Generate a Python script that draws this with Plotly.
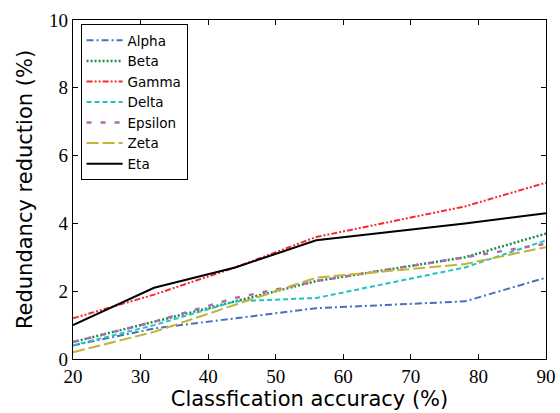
import plotly.graph_objects as go

# Classification accuracy (%) at which each method was evaluated
accuracy = [20, 32, 44, 56, 78, 90]

# Redundancy reduction (%) per method
alpha = [0.4, 0.9, 1.2, 1.5, 1.7, 2.4]
beta = [0.5, 1.1, 1.7, 2.3, 3.0, 3.7]
gamma = [1.2, 1.9, 2.7, 3.6, 4.5, 5.2]
delta = [0.4, 1.0, 1.7, 1.8, 2.7, 3.5]
epsilon = [0.5, 1.1, 1.8, 2.3, 3.0, 3.4]
zeta = [0.2, 0.8, 1.6, 2.4, 2.8, 3.3]
eta = [1.0, 2.1, 2.7, 3.5, 4.0, 4.3]

x_ticks = [20, 30, 40, 50, 60, 70, 80, 90]
y_ticks = [0, 2, 4, 6, 8, 10]

series = [
    ("Alpha", alpha, "#4a6fbf", "7px,3px,2px,3px", 2),
    ("Beta", beta, "#1f8a4c", "2px,2px", 2.5),
    ("Gamma", gamma, "#f42a2a", "6px,2px,2px,2px,2px,2px", 2),
    ("Delta", delta, "#22c3c3", "5px,3px", 2),
    ("Epsilon", epsilon, "#b06ab0", "5px,9px", 2.5),
    ("Zeta", zeta, "#c2b434", "12px,4px", 2),
    ("Eta", eta, "#000000", "solid", 2),
]

fig = go.Figure()
for name, vals, color, dash, width in series:
    fig.add_trace(go.Scatter(
        x=accuracy, y=vals, name=name, mode="lines",
        line=dict(color=color, dash=dash, width=width),
    ))

tick_font = dict(family="Liberation Serif, DejaVu Serif, serif", size=19, color="black")
title_font = dict(family="DejaVu Sans, sans-serif", size=21, color="black")

axis_common = dict(
    showline=True, linecolor="black", linewidth=1.2, mirror="ticks",
    ticks="inside", ticklen=5, tickcolor="black", tickwidth=1,
    showgrid=False, zeroline=False, tickfont=tick_font, automargin=False,
)

fig.update_layout(
    width=560, height=413,
    margin=dict(l=73, r=14, t=20, b=54, autoexpand=False),
    paper_bgcolor="white", plot_bgcolor="white",
    xaxis=dict(range=[20, 90], tickvals=x_ticks,
               title=dict(text="Classfication accuracy (%)", font=title_font, standoff=4),
               **axis_common),
    yaxis=dict(range=[0, 10], tickvals=y_ticks,
               title=dict(text="Redundancy reduction (%)", font=title_font, standoff=10),
               **axis_common),
    legend=dict(
        x=0.016, y=0.988, xanchor="left", yanchor="top",
        bgcolor="white", bordercolor="black", borderwidth=1,
        font=dict(family="DejaVu Sans, sans-serif", size=13.5, color="black"),
        tracegroupgap=0, itemwidth=36,
    ),
    showlegend=True,
)

fig.write_html("out.html")
